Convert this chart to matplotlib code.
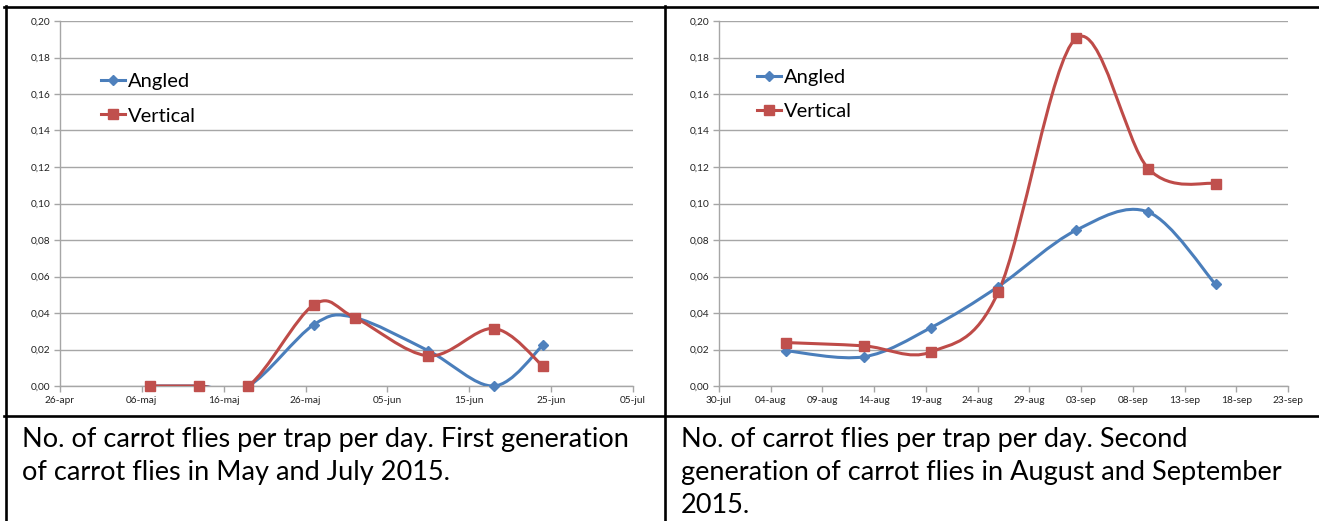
import numpy as np
import pandas as pd
import matplotlib
matplotlib.use("Agg")
import matplotlib.pyplot as plt
import matplotlib.dates as mdates
from matplotlib.path import Path
from matplotlib.patches import PathPatch
from matplotlib.lines import Line2D

# first generation (May - June 2015)
dates_1 = ["2015-05-07 00:00", "2015-05-13 00:00", "2015-05-19 00:00", "2015-05-27 00:00",
           "2015-06-01 00:00", "2015-06-10 00:00", "2015-06-18 00:00", "2015-06-24 00:00"]
angled_1 = [0.0, 0.0, 0.0, 0.0336, 0.0375, 0.0193, 0.0, 0.0224]
vertical_1 = [0.0, 0.0, 0.0, 0.0445, 0.0375, 0.0165, 0.0315, 0.0109]
xticks_1 = ["2015-04-26", "2015-05-06", "2015-05-16", "2015-05-26",
            "2015-06-05", "2015-06-15", "2015-06-25", "2015-07-05"]
xlabels_1 = ["26-apr", "06-maj", "16-maj", "26-maj", "05-jun", "15-jun", "25-jun", "05-jul"]

# second generation (August - September 2015)
dates_2 = ["2015-08-05 12:00", "2015-08-13 00:00", "2015-08-19 12:00", "2015-08-26 00:00",
           "2015-09-02 12:00", "2015-09-09 12:00", "2015-09-16 00:00"]
angled_2 = [0.0193, 0.0160, 0.0320, 0.0545, 0.0853, 0.0953, 0.0557]
vertical_2 = [0.0238, 0.0220, 0.0187, 0.0515, 0.1905, 0.1191, 0.1109]
xticks_2 = ["2015-07-30", "2015-08-04", "2015-08-09", "2015-08-14", "2015-08-19", "2015-08-24",
            "2015-08-29", "2015-09-03", "2015-09-08", "2015-09-13", "2015-09-18", "2015-09-23"]
xlabels_2 = ["30-jul", "04-aug", "09-aug", "14-aug", "19-aug", "24-aug",
             "29-aug", "03-sep", "08-sep", "13-sep", "18-sep", "23-sep"]

yticks = [0.00, 0.02, 0.04, 0.06, 0.08, 0.10, 0.12, 0.14, 0.16, 0.18, 0.20]
ylabels = ["0,00", "0,02", "0,04", "0,06", "0,08", "0,10", "0,12", "0,14", "0,16", "0,18", "0,20"]

captions = [["No. of carrot flies per trap per day. First generation",
             "of carrot flies in May and July 2015."],
            ["No. of carrot flies per trap per day. Second",
             "generation of carrot flies in August and September",
             "2015."]]

BLUE = "#4a7ebb"
BLUE_M = "#4f81bd"
RED = "#be4b48"
RED_M = "#c0504d"
GRID = "#a6a6a6"

plt.rcParams["font.family"] = ["Lato", "DejaVu Sans"]

W, H = 1319, 521


def smooth_path(x, y):
    # excel style smoothed line: cubic bezier through the points
    x = np.asarray(x, float)
    y = np.asarray(y, float)
    p = np.column_stack([x, y])
    n = len(p)
    verts = [p[0]]
    codes = [Path.MOVETO]
    for i in range(n - 1):
        p0 = p[i - 1] if i > 0 else p[i]
        p3 = p[i + 2] if i + 2 < n else p[i + 1]
        c1 = p[i] + (p[i + 1] - p0) / 6.0
        c2 = p[i + 1] - (p3 - p[i]) / 6.0
        verts += [c1, c2, p[i + 1]]
        codes += [Path.CURVE4] * 3
    return Path(verts, codes)


def draw_panel(ax, dates, ang, ver, ticks, tlabels, leg_xy):
    x = mdates.date2num(pd.to_datetime(dates, format="%Y-%m-%d %H:%M"))
    for yv, col, mcol, mk, ms in [(ang, BLUE, BLUE_M, "D", 5.4), (ver, RED, RED_M, "s", 7)]:
        ax.add_patch(PathPatch(smooth_path(x, yv), facecolor="none", edgecolor=col,
                               lw=2.2, capstyle="round", joinstyle="round", zorder=3))
        ax.plot(x, yv, ls="none", marker=mk, ms=ms, color=mcol, clip_on=False, zorder=4)
    tx = mdates.date2num(pd.to_datetime(ticks, format="%Y-%m-%d"))
    ax.set_xlim(tx[0], tx[-1])
    ax.set_xticks(tx)
    ax.set_xticklabels(tlabels)
    ax.set_ylim(0, 0.20)
    ax.set_yticks(yticks)
    ax.set_yticklabels(ylabels)
    ax.grid(axis="y", color=GRID, lw=1.0)
    ax.set_axisbelow(True)
    for s in ["top", "right"]:
        ax.spines[s].set_visible(False)
    for s in ["left", "bottom"]:
        ax.spines[s].set_color(GRID)
        ax.spines[s].set_linewidth(1.0)
    ax.tick_params(axis="both", direction="out", length=4, width=1.0, color=GRID,
                   labelsize=7.3, labelcolor="#222222", pad=3)
    handles = [Line2D([], [], color=BLUE, lw=2.2, marker="D", ms=5.4, mfc=BLUE_M, mec=BLUE_M),
               Line2D([], [], color=RED, lw=2.2, marker="s", ms=7, mfc=RED_M, mec=RED_M)]
    ax.legend(handles, ["Angled", "Vertical"], loc="upper left", bbox_to_anchor=leg_xy,
              frameon=False, fontsize=14.5, handlelength=1.2, handletextpad=0.15,
              labelspacing=0.85, borderaxespad=0, borderpad=0)


fig = plt.figure(figsize=(W / 100, H / 100), dpi=100)

def axes_rect(x0, x1, y_top, y_bot):
    return [x0 / W, 1 - y_bot / H, (x1 - x0) / W, (y_bot - y_top) / H]

ax1 = fig.add_axes(axes_rect(60, 633, 21, 386))
ax2 = fig.add_axes(axes_rect(719, 1288, 21, 386))
draw_panel(ax1, dates_1, angled_1, vertical_1, xticks_1, xlabels_1, (0.0716, 0.857))
draw_panel(ax2, dates_2, angled_2, vertical_2, xticks_2, xlabels_2, (0.0668, 0.868))

# table borders
lw_border = 1.9
fig.add_artist(Line2D([4 / W, 1], [1 - 7 / H] * 2, color="black", lw=lw_border))
fig.add_artist(Line2D([4 / W, 1], [1 - 416 / H] * 2, color="black", lw=lw_border))
fig.add_artist(Line2D([6 / W] * 2, [0, 1 - 6 / H], color="black", lw=lw_border))
fig.add_artist(Line2D([665 / W] * 2, [0, 1 - 6 / H], color="black", lw=lw_border))

# captions
for cx, lines in zip([22, 681], captions):
    for k, line in enumerate(lines):
        fig.text(cx / W, 1 - (447 + 33 * k) / H, line, fontsize=19.5, va="baseline",
                 ha="left", color="black")

fig.savefig("out.png", dpi=100)
